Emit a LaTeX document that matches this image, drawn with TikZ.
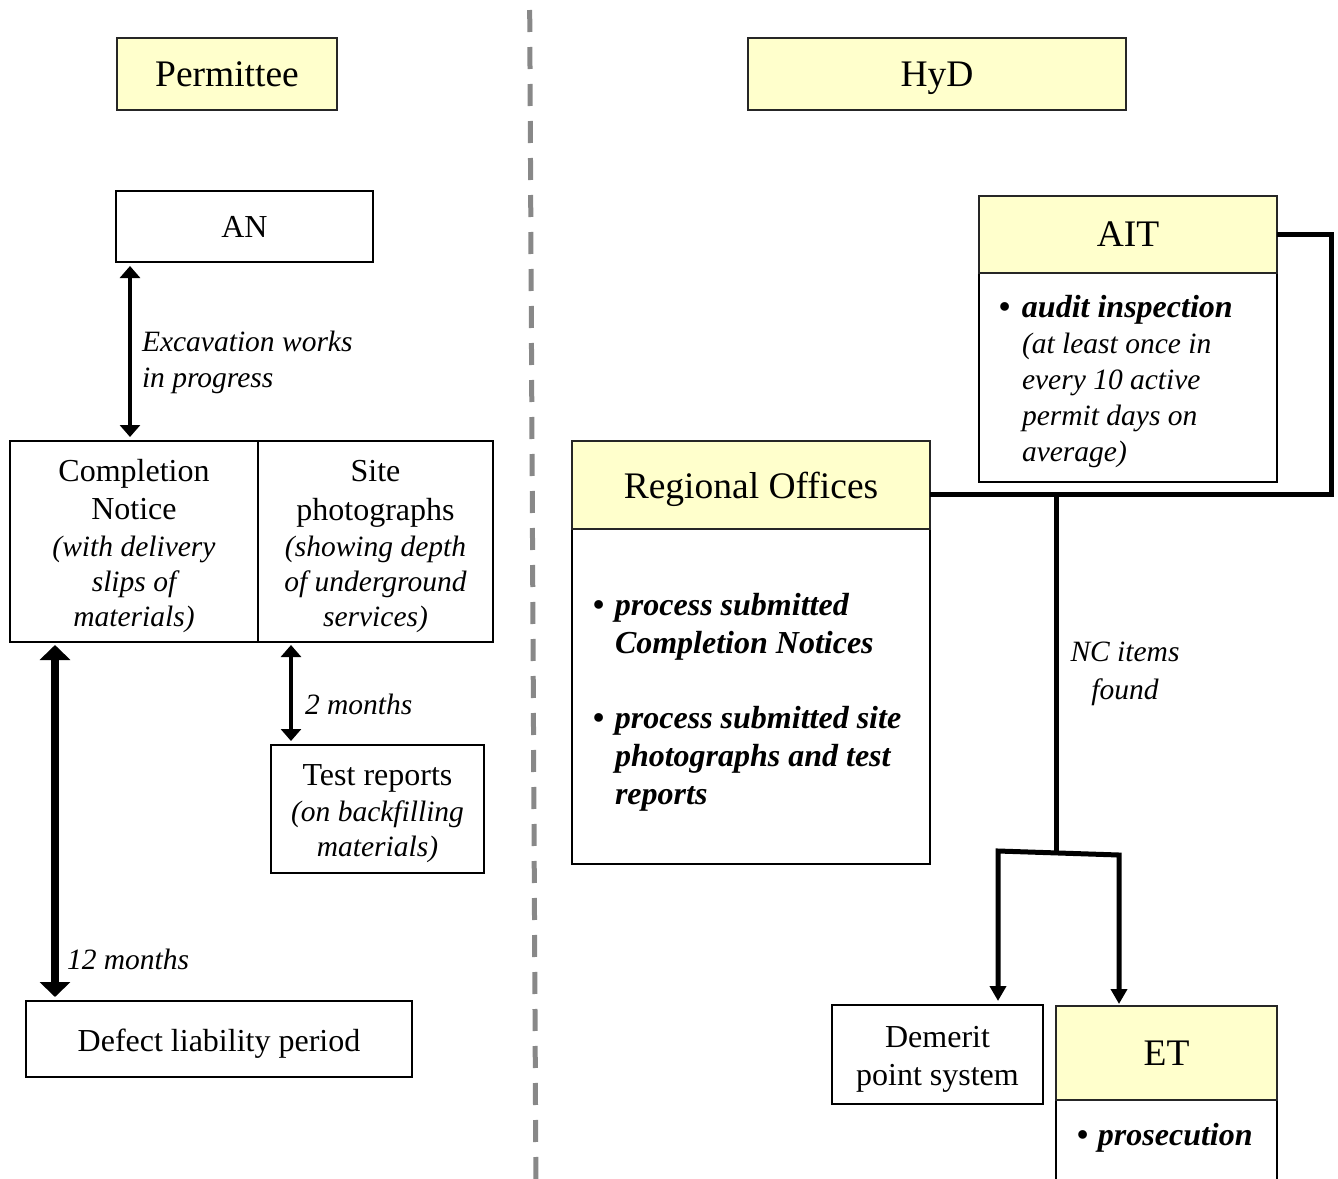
\documentclass[tikz,border=0pt]{standalone}
\usepackage{fontspec}
\setmainfont{Liberation Serif}
\usetikzlibrary{arrows.meta}
\definecolor{hdr}{HTML}{FFFFCC}
\definecolor{divgray}{HTML}{888888}
\newcommand{\myR}{\fontsize{32}{38}\selectfont\upshape\mdseries}
\newcommand{\myH}{\fontsize{37.5}{44}\selectfont}
\newcommand{\myI}{\fontsize{29.5}{35}\selectfont\mdseries\itshape}
\newcommand{\myIw}{\fontsize{29.5}{36}\selectfont\mdseries\itshape}
\newcommand{\myB}{\fontsize{32}{38}\selectfont\bfseries\itshape}
\begin{document}
\begin{tikzpicture}[x=1pt,y=-1pt,
  box/.style={draw, line width=1.6pt, rectangle, inner sep=0pt, outer sep=0pt, align=center, fill=white},
  hbox/.style={box, fill=hdr, draw=black!85, font=\myH, text depth=0pt},
  txt/.style={inner sep=0pt, outer sep=0pt, align=center, yshift=-5pt},
  lbl/.style={inner sep=0pt, outer sep=0pt, font=\myI},
  conn/.style={line width=5pt, line join=miter},
  tipA/.style={{Triangle[width=20pt,length=12pt]}-{Triangle[width=20pt,length=12pt]}},
  tipB/.style={{Triangle[width=30pt,length=15pt]}-{Triangle[width=30pt,length=15pt]}},
  tipC/.style={{Triangle[width=16pt,length=15pt]}-{Triangle[width=16pt,length=15pt]}},
]
\clip (0,0) rectangle (1338,1178);

% divider
\coordinate (dtop) at (529.5,-27);
\coordinate (dbot) at (536,1200);
\draw[divgray, line width=5pt, dash pattern=on 22pt off 15pt] (dtop) -- (dbot);

% headers
\node[hbox, minimum width=220pt, minimum height=72pt] (perm) at (227,74) {Permittee};
\node[hbox, minimum width=378pt, minimum height=72pt] (hyd) at (937,74) {HyD};

% permittee side
\node[box, minimum width=257pt, minimum height=71pt, font=\myR] (an) at (244.5,226.5) {AN};
\node[box, minimum width=248pt, minimum height=201pt] (cn) at (134,541.5) {};
\node[txt, font=\myI] (cnt) at (cn.center)
  {\myR Completion\\[3pt]\myR Notice\\[2pt](with delivery\\slips of\\materials)};
\node[box, minimum width=235pt, minimum height=201pt] (sp) at (375.5,541.5) {};
\node[txt, font=\myI] (spt) at (sp.center)
  {\myR Site\\[4pt]\myR photographs\\[1pt](showing depth\\of underground\\services)};
\node[box, minimum width=213pt, minimum height=128pt] (tr) at (377.5,809) {};
\node[txt, font=\myI] (trt) at (tr.center)
  {\myR Test reports\\[1pt](on backfilling\\materials)};
\node[box, minimum width=386pt, minimum height=76pt] (dl) at (219,1039) {};
\node[txt, font=\myR] (dlt) at (dl.center) {Defect liability period};

\coordinate (ax) at (130,0);
\coordinate (bx) at (55,0);
\coordinate (cx) at (291,0);
\draw[line width=4pt, tipA, shorten <=4pt, shorten >=4pt] (an.south -| ax) -- (cn.north -| ax);
\draw[line width=8pt, tipB, shorten <=3pt, shorten >=4pt] (cn.south -| bx) -- (dl.north -| bx);
\draw[line width=4pt, tipA, shorten <=3pt, shorten >=4pt] (sp.south -| cx) -- (tr.north -| cx);

\node[lbl, anchor=west, align=left] (exc) at (142,362) {Excavation works\\[1pt]in progress};
\node[lbl, anchor=west] (two) at (305,704) {2 months};
\node[lbl, anchor=west] (twelve) at (67,959) {12 months};

% HyD side
\node[box, minimum width=358pt, minimum height=335pt] (rob) at (751,696.5) {};
\node[hbox, minimum width=358pt, minimum height=88pt] (roh) at (751,485) {Regional Offices};
\node[lbl, anchor=west, align=left, font=\myB] (rot) at (615,702)
  {\llap{\textbullet\hspace{11pt}}process submitted\\Completion Notices\\[37pt]\llap{\textbullet\hspace{11pt}}process submitted site\\photographs and test\\reports};

\node[box, minimum width=298pt, minimum height=209pt] (aitb) at (1128,377.5) {};
\node[hbox, minimum width=298pt, minimum height=77pt] (aith) at (1128,234.5) {AIT};
\node[lbl, anchor=west, align=left, font=\myIw] (aitt) at (1022,382)
  {\myB\llap{\textbullet\hspace{12pt}}audit inspection\\(at least once in\\every 10 active\\permit days on\\average)};

\node[box, minimum width=211pt, minimum height=99pt] (dm) at (937.5,1054.5) {};
\node[txt, font=\myR] (dmt) at (dm.center) {Demerit\\point system};
\node[box, minimum width=221pt, minimum height=100pt] (etb) at (1166.5,1150) {};
\node[hbox, minimum width=221pt, minimum height=94pt] (eth) at (1166.5,1053) {ET};
\node[lbl, anchor=west, font=\myB] (ett) at (1098,1138) {\llap{\textbullet\hspace{10pt}}prosecution};

\coordinate (j1) at (1056,494);
\coordinate (rx) at (1331,0);
\coordinate (j2) at (1056,853);
\coordinate (l1) at (998,851);
\coordinate (r1) at (1119,855);
\draw[conn] (roh.east |- j1) -- (j1) -- (j1 -| rx) |- (aith.east);
\draw[conn] (j1) -- (j2);
\draw[conn, tipC, shorten <=4pt, shorten >=2pt] (dm.north -| l1) -- (l1) -- (r1) -- (eth.north -| r1);

\node[lbl, align=center] (nc) at (1125,674) {NC items\\[3pt]found};
\end{tikzpicture}
\end{document}
